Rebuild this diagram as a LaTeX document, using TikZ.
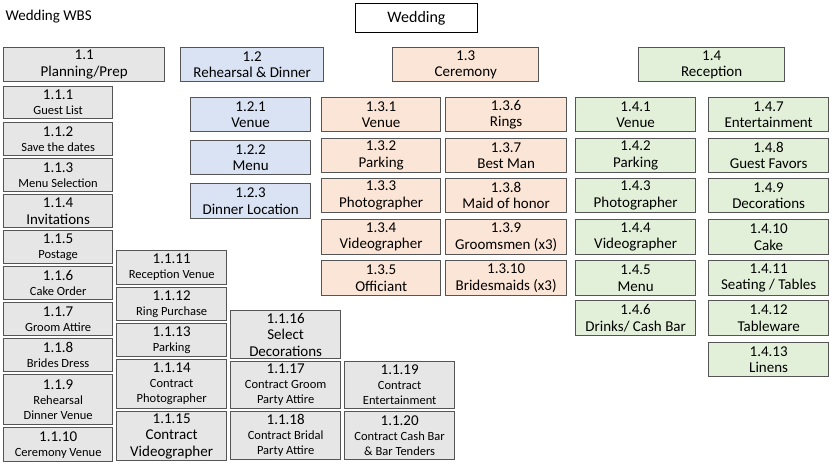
\documentclass[tikz,border=0pt]{standalone}
\usepackage{fontspec}
\setmainfont{Carlito}
\definecolor{gbox}{HTML}{E7E6E6}
\definecolor{bbox}{HTML}{DAE3F3}
\definecolor{obox}{HTML}{FBE5D6}
\definecolor{lbox}{HTML}{E2F0D9}
\definecolor{edge}{HTML}{555555}
\newcommand\bigf{\fontsize{15}{16.5}\selectfont}
\newcommand\smf{\fontsize{12.5}{15}\selectfont}
\tikzset{wbs/.style={draw=edge,line width=1.3pt,inner sep=0pt,align=center,anchor=north west,font=\bigf},
 smalltxt/.style={font=\smf}}
\newcommand\wbx[7][]{\node[wbs,#1,fill=#7,minimum width={#4pt-#2pt},minimum height={#5pt-#3pt}] (n#6) at (#2pt,-#3pt)}
\begin{document}
\begin{tikzpicture}[x=1pt,y=1pt]
\useasboundingbox[fill=white] (0,0) rectangle (837,-467);
\node[anchor=west,font=\fontsize{15}{17}\selectfont] (title) at (2,-17) {Wedding WBS};
\node[draw=black,line width=1pt,minimum width=122pt,minimum height=29pt,anchor=north west,font=\fontsize{16}{18}\selectfont] (wed) at (355,-3) {Wedding};
\wbx{3}{47}{164}{81}{11}{gbox} {1.1\\Planning/Prep};
\wbx{180}{47}{323}{81}{12}{bbox} {1.2\\Rehearsal \& Dinner};
\wbx{392}{47}{538}{81}{13}{obox} {1.3\\Ceremony};
\wbx{638}{47}{784}{81}{14}{lbox} {1.4\\Reception};
% 1.1.x col 1
\wbx[smalltxt]{3}{86}{112}{118}{111}{gbox}{\bigf 1.1.1\\Guest List};
\wbx[smalltxt]{3}{122}{112}{155}{112}{gbox}{\bigf 1.1.2\\Save the dates};
\wbx[smalltxt]{3}{158}{112}{191}{113}{gbox}{\bigf 1.1.3\\Menu Selection};
\wbx{3}{194}{112}{227}{114}{gbox}{1.1.4\\Invitations};
\wbx[smalltxt]{3}{230}{112}{263}{115}{gbox}{\bigf 1.1.5\\Postage};
\wbx[smalltxt]{3}{266}{112}{299}{116}{gbox}{\bigf 1.1.6\\Cake Order};
\wbx[smalltxt]{3}{302}{112}{335}{117}{gbox}{\bigf 1.1.7\\Groom Attire};
\wbx[smalltxt]{3}{338}{112}{371}{118}{gbox}{\bigf 1.1.8\\Brides Dress};
\wbx[smalltxt]{3}{374}{112}{424}{119}{gbox}{\bigf 1.1.9\\Rehearsal\\Dinner Venue};
\wbx[smalltxt]{3}{427}{112}{461}{1110}{gbox}{\bigf 1.1.10\\Ceremony Venue};
% col 2
\wbx[smalltxt]{116}{250}{226}{284}{1111}{gbox}{\bigf 1.1.11\\Reception Venue};
\wbx[smalltxt]{116}{287}{226}{320}{1112}{gbox}{\bigf 1.1.12\\Ring Purchase};
\wbx[smalltxt]{116}{323}{226}{356}{1113}{gbox}{\bigf 1.1.13\\Parking};
\wbx[smalltxt]{116}{359}{226}{408}{1114}{gbox}{\bigf 1.1.14\\Contract\\Photographer};
\wbx{116}{411}{226}{460}{1115}{gbox}{1.1.15\\Contract\\Videographer};
% col 3
\wbx{230}{310}{340}{358}{1116}{gbox}{1.1.16\\Select\\Decorations};
\wbx[smalltxt]{230}{361}{340}{408}{1117}{gbox}{\bigf 1.1.17\\Contract Groom\\Party Attire};
\wbx[smalltxt]{230}{411}{340}{459}{1118}{gbox}{\bigf 1.1.18\\Contract Bridal\\Party Attire};
% col 4
\wbx[smalltxt]{344}{361}{454}{408}{1119}{gbox}{\bigf 1.1.19\\Contract\\Entertainment};
\wbx[smalltxt]{344}{411}{454}{459}{1120}{gbox}{\bigf 1.1.20\\Contract Cash Bar\\\& Bar Tenders};
% 1.2.x
\wbx{190}{97}{310}{131}{121}{bbox}{1.2.1\\Venue};
\wbx{190}{140}{310}{174}{122}{bbox}{1.2.2\\Menu};
\wbx{190}{183}{310}{218}{123}{bbox}{1.2.3\\Dinner Location};
% 1.3.x
\wbx{321}{97}{440}{131}{131}{obox}{1.3.1\\Venue};
\wbx{321}{138}{440}{172}{132}{obox}{1.3.2\\Parking};
\wbx{321}{178}{440}{212}{133}{obox}{1.3.3\\Photographer};
\wbx{321}{219}{440}{254}{134}{obox}{1.3.4\\Videographer};
\wbx{321}{260}{440}{295}{135}{obox}{1.3.5\\Officiant};
\wbx{445}{97}{566}{131}{136}{obox}{1.3.6\\Rings};
\wbx{445}{138}{566}{172}{137}{obox}{1.3.7\\Best Man};
\wbx{445}{178}{566}{212}{138}{obox}{1.3.8\\Maid of honor};
\wbx{445}{219}{566}{254}{139}{obox}{1.3.9\\Groomsmen (x3)};
\wbx{445}{260}{566}{295}{1310}{obox}{1.3.10\\Bridesmaids (x3)};
% 1.4.x
\wbx{575}{97}{695}{131}{141}{lbox}{1.4.1\\Venue};
\wbx{575}{138}{695}{172}{142}{lbox}{1.4.2\\Parking};
\wbx{575}{178}{695}{212}{143}{lbox}{1.4.3\\Photographer};
\wbx{575}{219}{695}{254}{144}{lbox}{1.4.4\\Videographer};
\wbx{575}{260}{695}{295}{145}{lbox}{1.4.5\\Menu};
\wbx{575}{300}{695}{335}{146}{lbox}{1.4.6\\Drinks/ Cash Bar};
\wbx{708}{97}{828}{131}{147}{lbox}{1.4.7\\Entertainment};
\wbx{708}{138}{828}{172}{148}{lbox}{1.4.8\\Guest Favors};
\wbx{708}{178}{828}{212}{149}{lbox}{1.4.9\\Decorations};
\wbx{708}{219}{828}{254}{1410}{lbox}{1.4.10\\Cake};
\wbx{708}{260}{828}{295}{1411}{lbox}{1.4.11\\Seating / Tables};
\wbx{708}{300}{828}{335}{1412}{lbox}{1.4.12\\Tableware};
\wbx{708}{342}{828}{376}{1413}{lbox}{1.4.13\\Linens};
\end{tikzpicture}
\end{document}
